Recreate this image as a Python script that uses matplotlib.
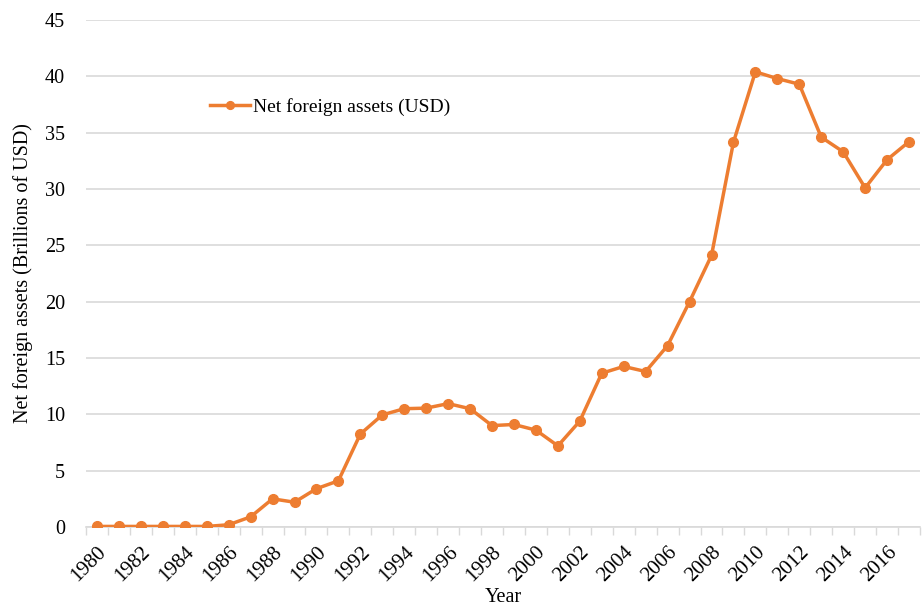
import numpy as np
import matplotlib
matplotlib.use("Agg")
import matplotlib.pyplot as plt

years = list(range(1980, 2018))
assets = [0.05, 0.05, 0.05, 0.05, 0.05, 0.05, 0.2, 0.9, 2.5, 2.2,
          3.4, 4.1, 8.25, 9.95, 10.5, 10.55, 10.95, 10.5, 9.0, 9.1,
          8.6, 7.2, 9.4, 13.65, 14.25, 13.8, 16.1, 20.0, 24.1, 34.15,
          40.4, 39.8, 39.3, 34.6, 33.3, 30.1, 32.6, 34.2]
tick_labels = [str(y) if y % 2 == 0 else "" for y in years]

ORANGE = "#ED7D31"
GRID = "#D9D9D9"

plt.rcParams["font.family"] = ["Liberation Serif", "DejaVu Serif"]

fig = plt.figure(figsize=(9.22, 6.10), dpi=100, facecolor="w")
ax = fig.add_axes([86/922, 1 - 527/610, (920 - 86)/922, (527 - 20)/610])

x = np.arange(len(years))
ax.plot(x, assets, color=ORANGE, lw=2.5, marker="o", ms=7,
        label="Net foreign assets (USD)", zorder=3)

ax.set_xlim(-0.5, len(years) - 0.5)
ax.set_ylim(0, 45)
ax.set_yticks(range(0, 46, 5))
ax.tick_params(axis="y", length=0, labelsize=14.5, pad=15)

ax.set_xticks(x)
ax.set_xticklabels(tick_labels, rotation=45, ha="right", rotation_mode="anchor", fontsize=15)
ax.tick_params(axis="x", length=0, pad=11)
# category boundary tick marks
ax.set_xticks(np.arange(-0.5, len(years), 1), minor=True)
ax.tick_params(axis="x", which="minor", length=6, color=GRID, width=1)

ax.grid(axis="y", color=GRID, lw=1.2)
ax.set_axisbelow(True)
for s in ["top", "right", "left"]:
    ax.spines[s].set_visible(False)
ax.spines["bottom"].set_color(GRID)
ax.spines["bottom"].set_linewidth(1.2)

ax.set_xlabel("Year", fontsize=14.5, labelpad=2)
ax.set_ylabel("Net foreign assets (Brillions of USD)", fontsize=14.5, labelpad=9)

ax.legend(loc="upper left", bbox_to_anchor=(0.128, 0.88), frameon=False,
          fontsize=14, handlelength=2.05, handletextpad=0.15, markerscale=0.8)

fig.savefig("out.png", dpi=100)
